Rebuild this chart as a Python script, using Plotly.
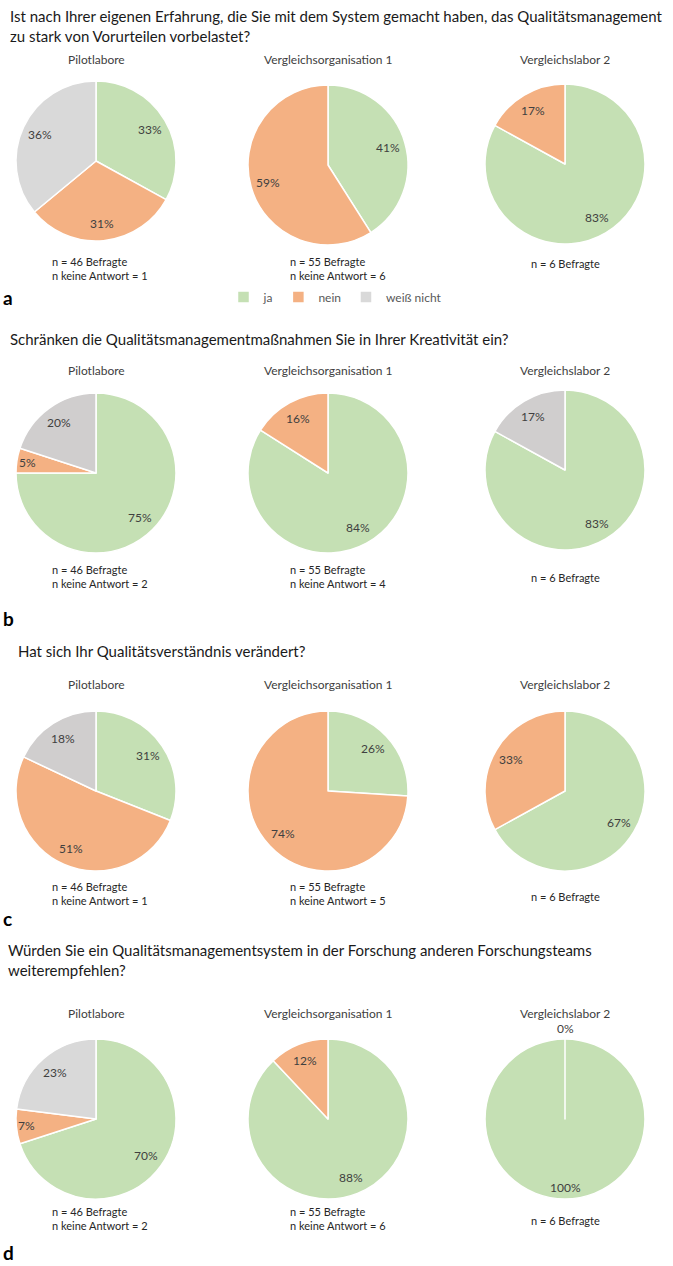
import math
import plotly.graph_objects as go

W, H = 673, 1266
FONT = "Lato, Carlito, Calibri, sans-serif"

GREEN = "#C5E0B4"
ORANGE = "#F4B183"
GRAY_L = "#D9D9D9"
GRAY_D = "#D0CECE"

groups = ["Pilotlabore", "Vergleichsorganisation 1", "Vergleichslabor 2"]

# ---- Panel a ----
a_title = ("Ist nach Ihrer eigenen Erfahrung, die Sie mit dem System gemacht haben, das Qualitätsmanagement"
           "<br>zu stark von Vorurteilen vorbelastet?")
a_legend = ["ja", "nein", "weiß nicht"]
a_labels = [["ja", "nein", "weiß nicht"], ["ja", "nein"], ["ja", "nein"]]
a_values = [[33, 31, 36], [41, 59], [83, 17]]
a_n = ["n = 46 Befragte<br>n keine Antwort = 1", "n = 55 Befragte<br>n keine Antwort = 6", "n = 6 Befragte"]

# ---- Panel b ----
b_title = "Schränken die Qualitätsmanagementmaßnahmen Sie in Ihrer Kreativität ein?"
b_legend = ["nein", "ja", "weiß nicht"]
b_labels = [["nein", "ja", "weiß nicht"], ["nein", "ja"], ["nein", "weiß nicht"]]
b_values = [[75, 5, 20], [84, 16], [83, 17]]
b_n = ["n = 46 Befragte<br>n keine Antwort = 2", "n = 55 Befragte<br>n keine Antwort = 4", "n = 6 Befragte"]

# ---- Panel c ----
c_title = "Hat sich Ihr Qualitätsverständnis verändert?"
c_legend = ["ja", "nein", "weiß nicht"]
c_labels = [["ja", "nein", "weiß nicht"], ["ja", "nein"], ["ja", "nein"]]
c_values = [[31, 51, 18], [26, 74], [67, 33]]
c_n = ["n = 46 Befragte<br>n keine Antwort = 1", "n = 55 Befragte<br>n keine Antwort = 5", "n = 6 Befragte"]

# ---- Panel d ----
d_title = ("Würden Sie ein Qualitätsmanagementsystem in der Forschung anderen Forschungsteams"
           "<br>weiterempfehlen?")
d_legend = ["ja", "nein", "weiß nicht"]
d_labels = [["ja", "nein", "weiß nicht"], ["ja", "nein"], ["ja", "nein"]]
d_values = [[70, 7, 23], [88, 12], [100, 0]]
d_n = ["n = 46 Befragte<br>n keine Antwort = 2", "n = 55 Befragte<br>n keine Antwort = 6", "n = 6 Befragte"]

panel_letters = ["a", "b", "c", "d"]

# ---- layout geometry (pixels) ----
R = 80
pie_cx = [96, 328, 565]
n_dx = [-46, -40]
panels = [
    dict(title=a_title, legend=a_legend, labels=a_labels, values=a_values, n=a_n,
         legend_colors={"ja": GREEN, "nein": ORANGE, "weiß nicht": GRAY_L},
         title_x=8, title_y=26, sub_y=59, pie_cy=[161, 165, 164], n_y=268, n3_y=264,
         leg_y=297, leg_x=335),
    dict(title=b_title, legend=b_legend, labels=b_labels, values=b_values, n=b_n,
         legend_colors={"nein": GREEN, "ja": ORANGE, "weiß nicht": GRAY_D},
         title_x=8, title_y=339, sub_y=370, pie_cy=[473, 473, 470], n_y=576, n3_y=577,
         leg_y=618, leg_x=315),
    dict(title=c_title, legend=c_legend, labels=c_labels, values=c_values, n=c_n,
         legend_colors={"ja": GREEN, "nein": ORANGE, "weiß nicht": GRAY_D},
         title_x=16, title_y=651, sub_y=684, pie_cy=[791, 791, 791], n_y=893, n3_y=896,
         leg_y=918, leg_x=336),
    dict(title=d_title, legend=d_legend, labels=d_labels, values=d_values, n=d_n,
         legend_colors={"ja": GREEN, "nein": ORANGE, "weiß nicht": GRAY_L},
         title_x=6, title_y=960, sub_y=1013, pie_cy=[1119, 1119, 1119], n_y=1218, n3_y=1220,
         leg_y=1252, leg_x=331),
]


def px(x):
    return x / W


def py(y):
    return 1 - y / H


fig = go.Figure()
annotations = []
legend_names = ["legend", "legend2", "legend3", "legend4"]
layout_legends = {}
lab_font = dict(family=FONT, size=12, color="#404040")

for pi, p in enumerate(panels):
    lname = legend_names[pi]
    for gi in range(3):
        labs = p["labels"][gi]
        vals = p["values"][gi]
        cols = [p["legend_colors"][l] for l in labs]
        cx, cy = pie_cx[gi], p["pie_cy"][gi]
        fig.add_trace(go.Pie(
            labels=labs, values=vals, sort=False, direction="clockwise", rotation=0,
            marker=dict(colors=cols, line=dict(color="white", width=1.5)),
            textinfo="none",
            domain=dict(x=[px(cx - R), px(cx + R)], y=[py(cy + R), py(cy - R)]),
            legend=lname, hoverinfo="label+percent", showlegend=True,
        ))
        # percentage labels placed at the slice mid-angles (derived from the values)
        total = float(sum(vals))
        cum = 0.0
        for v in vals:
            mid = (cum + v / 2.0) / total * 2 * math.pi
            cum += v
            if v == 0:
                rr = R + 11
            elif v < 10:
                rr = 0.87 * R
            elif v == total:
                rr = 0.85 * R
            else:
                rr = 0.78 * R
            lx = cx + rr * math.sin(mid)
            ly = cy - rr * math.cos(mid)
            annotations.append(dict(text=f"{v}%", x=px(lx), y=py(ly), xref="paper", yref="paper",
                                    xanchor="center", yanchor="middle", showarrow=False, font=lab_font))
        # subtitle
        annotations.append(dict(text=groups[gi], x=px(cx), y=py(p["sub_y"]), xref="paper", yref="paper",
                                xanchor="center", yanchor="middle", showarrow=False,
                                font=dict(family=FONT, size=12, color="#404040")))
        # n text
        if gi < 2:
            annotations.append(dict(text=p["n"][gi], x=px(cx + n_dx[gi]), y=py(p["n_y"]), xref="paper",
                                    yref="paper", xanchor="left", yanchor="middle", align="left",
                                    showarrow=False, font=dict(family=FONT, size=11, color="#262626")))
        else:
            annotations.append(dict(text=p["n"][gi], x=px(cx), y=py(p["n3_y"]), xref="paper", yref="paper",
                                    xanchor="center", yanchor="middle", showarrow=False,
                                    font=dict(family=FONT, size=11, color="#262626")))
    # title
    annotations.append(dict(text=p["title"], x=px(p["title_x"]), y=py(p["title_y"]), xref="paper", yref="paper",
                            xanchor="left", yanchor="middle", align="left", showarrow=False,
                            font=dict(family=FONT, size=15, color="#1a1a1a")))
    # panel letter
    annotations.append(dict(text="<b>" + panel_letters[pi] + "</b>", x=px(1), y=py(p["leg_y"]),
                            xref="paper", yref="paper", xanchor="left", yanchor="middle", showarrow=False,
                            font=dict(family=FONT, size=19, color="#000000")))
    layout_legends[lname] = dict(orientation="h", x=px(p["leg_x"]), y=py(p["leg_y"]), xanchor="center",
                                 yanchor="middle", font=dict(family=FONT, size=12, color="#595959"),
                                 bgcolor="rgba(0,0,0,0)", itemclick=False, itemdoubleclick=False)

fig.update_layout(
    width=W, height=H, margin=dict(l=0, r=0, t=0, b=0),
    paper_bgcolor="white", plot_bgcolor="white",
    annotations=annotations, font=dict(family=FONT),
    **layout_legends,
)

fig.write_html("out.html")
